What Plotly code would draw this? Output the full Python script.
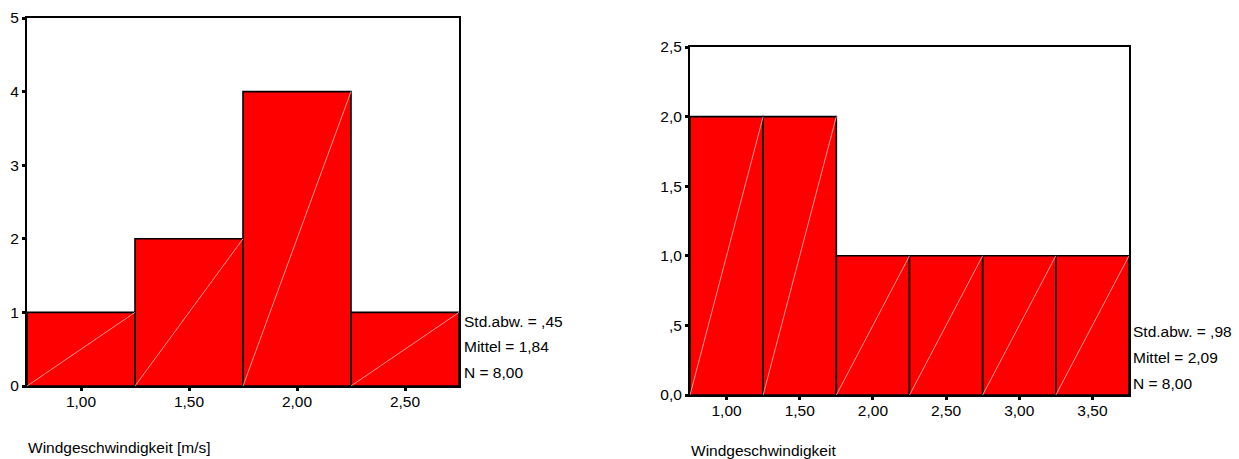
import plotly.graph_objects as go

W, H = 1239, 459

# Left histogram
left_centers = [1.0, 1.5, 2.0, 2.5]
left_counts = [1, 2, 4, 1]
left_xticks = [1.0, 1.5, 2.0, 2.5]
left_xticktext = ["1,00", "1,50", "2,00", "2,50"]
left_yticks = [0, 1, 2, 3, 4, 5]
left_yticktext = ["0", "1", "2", "3", "4", "5"]
left_stats = ["Std.abw. = ,45", "Mittel = 1,84", "N = 8,00"]
left_title = "Windgeschwindigkeit [m/s]"

# Right histogram
right_centers = [1.0, 1.5, 2.0, 2.5, 3.0, 3.5]
right_counts = [2, 2, 1, 1, 1, 1]
right_xticks = [1.0, 1.5, 2.0, 2.5, 3.0, 3.5]
right_xticktext = ["1,00", "1,50", "2,00", "2,50", "3,00", "3,50"]
right_yticks = [0, 0.5, 1.0, 1.5, 2.0, 2.5]
right_yticktext = ["0,0", ",5", "1,0", "1,5", "2,0", "2,5"]
right_stats = ["Std.abw. = ,98", "Mittel = 2,09", "N = 8,00"]
right_title = "Windgeschwindigkeit"

BIN = 0.5
FONT = "Liberation Sans, Arial, sans-serif"
FS = 15.5

def px_x(p):
    return p / W

def px_y(p):
    return 1 - p / H

fig = go.Figure()

def add_hist(centers, counts, xa, ya):
    fig.add_trace(go.Bar(
        x=centers, y=counts, width=[BIN] * len(centers),
        marker=dict(color="#ff0000", line=dict(color="black", width=1.6)),
        xaxis=xa, yaxis=ya, showlegend=False, hoverinfo="skip"))
    dx, dy = [], []
    for c, v in zip(centers, counts):
        dx += [c - BIN / 2, c + BIN / 2, None]
        dy += [0, v, None]
    fig.add_trace(go.Scatter(
        x=dx, y=dy, mode="lines",
        line=dict(color="rgba(255,190,190,1)", width=0.8),
        xaxis=xa, yaxis=ya, showlegend=False, hoverinfo="skip"))

add_hist(left_centers, left_counts, "x", "y")
add_hist(right_centers, right_counts, "x2", "y2")

axis_common = dict(showline=True, linecolor="black", linewidth=2, mirror=True,
                   showgrid=False, zeroline=False, ticks="outside", ticklen=3,
                   tickwidth=3, tickcolor="black", automargin=False,
                   tickfont=dict(family=FONT, size=FS, color="black"))

fig.update_layout(
    width=W, height=H, margin=dict(l=0, r=0, t=0, b=0, autoexpand=False),
    paper_bgcolor="white", plot_bgcolor="white",
    xaxis=dict(domain=[px_x(27), px_x(459)], range=[0.75, 2.75],
               tickvals=left_xticks, ticktext=left_xticktext, anchor="y",
               ticklabelstandoff=-3, **axis_common),
    yaxis=dict(domain=[px_y(386), px_y(18)], range=[0, 5],
               tickvals=left_yticks, ticktext=left_yticktext, anchor="x",
               **axis_common),
    xaxis2=dict(domain=[px_x(690), px_x(1129)], range=[0.75, 3.75],
                tickvals=right_xticks, ticktext=right_xticktext, anchor="y2",
                ticklabelstandoff=-3, **axis_common),
    yaxis2=dict(domain=[px_y(395), px_y(47)], range=[0, 2.5],
                tickvals=right_yticks, ticktext=right_yticktext, anchor="x2",
                **axis_common),
)

annots = []
for i, t in enumerate(left_stats):
    annots.append(dict(text=t, x=px_x(462), y=px_y(321 + 25.5 * i),
                       xref="paper", yref="paper", xanchor="left",
                       yanchor="middle", showarrow=False,
                       font=dict(family=FONT, size=FS, color="black")))
for i, t in enumerate(right_stats):
    annots.append(dict(text=t, x=px_x(1131), y=px_y(331 + 26 * i),
                       xref="paper", yref="paper", xanchor="left",
                       yanchor="middle", showarrow=False,
                       font=dict(family=FONT, size=FS, color="black")))
annots.append(dict(text=left_title, x=px_x(26), y=px_y(447),
                   xref="paper", yref="paper", xanchor="left",
                   yanchor="middle", showarrow=False,
                   font=dict(family=FONT, size=FS, color="black")))
annots.append(dict(text=right_title, x=px_x(689), y=px_y(450),
                   xref="paper", yref="paper", xanchor="left",
                   yanchor="middle", showarrow=False,
                   font=dict(family=FONT, size=FS, color="black")))
fig.update_layout(annotations=annots)

fig.write_html("out.html", config={"displayModeBar": False},
               post_script="document.body.style.margin='0';document.body.style.overflow='hidden';")
